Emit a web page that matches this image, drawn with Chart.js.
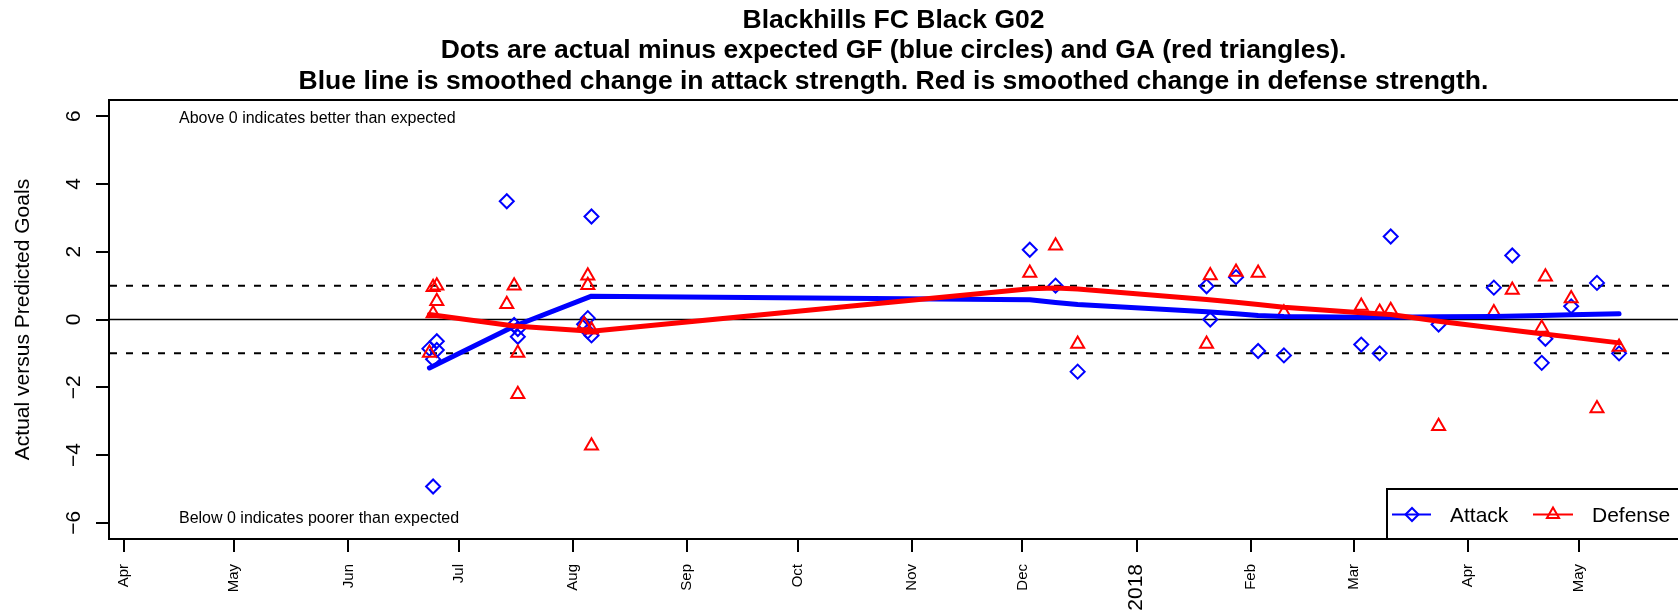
<!DOCTYPE html>
<html lang="en">
<head>
  <meta charset="UTF-8" />
  <title>Blackhills FC Black G02</title>
  <script src="https://cdn.jsdelivr.net/npm/chart.js"></script>
  <style>
    html, body { margin: 0; padding: 0; background: #fff; }
    canvas { display: block; }
  </style>
</head>
<body>
  <canvas id="chart" width="1678" height="616"></canvas>

  <script>
    // one entry per match: actual minus expected goals for / against
    const matchDates = [
      '2017-06-23', '2017-06-24', '2017-06-24', '2017-06-25', '2017-06-25',
      '2017-07-14', '2017-07-16', '2017-07-17', '2017-07-17',
      '2017-08-04', '2017-08-05', '2017-08-05', '2017-08-06', '2017-08-06',
      '2017-12-03', '2017-12-10', '2017-12-16',
      '2018-01-20', '2018-01-21', '2018-01-28', '2018-02-03', '2018-02-10',
      '2018-03-03', '2018-03-08', '2018-03-11', '2018-03-24',
      '2018-04-08', '2018-04-13', '2018-04-21', '2018-04-22', '2018-04-29', '2018-05-06', '2018-05-12'
    ];
    const attackDiff = [
      -0.86, -1.17, -4.93, -0.64, -0.90,
      3.49, -0.16, -0.28, -0.51,
      -0.14, 0.04, -0.35, 3.04, -0.47,
      2.06, 1.00, -1.54,
      0.98, 0.00, 1.25, -0.93, -1.06,
      -0.74, -1.00, 2.45, -0.15,
      0.94, 1.89, -1.28, -0.57, 0.39, 1.08, -1.00
    ];
    const defenseDiff = [
      -0.99, 0.95, 0.18, 1.00, 0.54,
      0.45, 1.00, -0.99, -2.21,
      -0.15, 1.29, 1.01, -0.30, -3.73,
      1.37, 2.18, -0.72,
      -0.72, 1.30, 1.40, 1.37, 0.20,
      0.40, 0.22, 0.27, -3.15,
      0.21, 0.87, -0.25, 1.26, 0.62, -2.63, -0.81
    ];

    // smoothed change in strength
    const smoothDates = [
      '2017-06-23', '2017-07-16', '2017-08-06', '2017-12-03', '2017-12-10', '2017-12-16',
      '2018-01-20', '2018-01-28', '2018-02-03', '2018-02-10', '2018-03-03', '2018-03-11',
      '2018-03-24', '2018-04-08', '2018-04-21', '2018-04-29', '2018-05-12'
    ];
    const attackSmooth = [-1.43, -0.20, 0.69, 0.58, 0.50, 0.44, 0.23, 0.17, 0.12, 0.09, 0.07, 0.07, 0.08, 0.09, 0.12, 0.14, 0.17];
    const defenseSmooth = [0.15, -0.19, -0.35, 0.91, 0.93, 0.90, 0.59, 0.51, 0.44, 0.36, 0.20, 0.15, -0.05, -0.25, -0.42, -0.52, -0.69];

    const monthTicks = [
      '2017-04-01', '2017-05-01', '2017-06-01', '2017-07-01', '2017-08-01', '2017-09-01', '2017-10-01',
      '2017-11-01', '2017-12-01', '2018-01-01', '2018-02-01', '2018-03-01', '2018-04-01', '2018-05-01'
    ];
    const monthLabels = ['Apr', 'May', 'Jun', 'Jul', 'Aug', 'Sep', 'Oct', 'Nov', 'Dec', '2018', 'Feb', 'Mar', 'Apr', 'May'];
    const yTicks = [-6, -4, -2, 0, 2, 4, 6];
    const xRange = ['2017-03-28', '2018-05-28'];
    const yRange = [-6.48, 6.48];
    const refLines = [1, -1];

    const titleLines = [
      'Blackhills FC Black G02',
      'Dots are actual minus expected GF (blue circles) and GA (red triangles).',
      'Blue line is smoothed change in attack strength. Red is smoothed change in defense strength.'
    ];
    const notes = [
      { text: 'Above 0 indicates better than expected', x: '2017-04-16', y: 5.92 },
      { text: 'Below 0 indicates poorer than expected', x: '2017-04-16', y: -5.89 }
    ];

    const FONT = '"Liberation Sans", Arial, Helvetica, sans-serif';
    const BLUE = '#0000ff';
    const RED = '#ff0000';

    const day = s => Date.parse(s + 'T00:00:00Z') / 86400000;
    const pts = (dates, vals) => dates.map((d, i) => ({ x: day(d), y: vals[i] }));

    function diamond(ctx, x, y, r) {
      ctx.beginPath();
      ctx.moveTo(x - r, y); ctx.lineTo(x, y - r); ctx.lineTo(x + r, y); ctx.lineTo(x, y + r);
      ctx.closePath(); ctx.stroke();
    }
    function triangle(ctx, x, y, r) {
      ctx.beginPath();
      ctx.moveTo(x, y - r);
      ctx.lineTo(x + r * Math.sqrt(3) / 2, y + r / 2);
      ctx.lineTo(x - r * Math.sqrt(3) / 2, y + r / 2);
      ctx.closePath(); ctx.stroke();
    }

    // R style extras: reference lines, box, rotated labels, titles, legend
    const rStyle = {
      id: 'rStyle',
      beforeDatasetsDraw(chart) {
        const { ctx, chartArea: a, scales: { y } } = chart;
        ctx.save();
        ctx.beginPath();
        ctx.rect(a.left, a.top, a.right - a.left, a.bottom - a.top);
        ctx.clip();
        ctx.strokeStyle = '#000';
        let py = y.getPixelForValue(0);
        ctx.lineWidth = 1.7;
        ctx.beginPath(); ctx.moveTo(a.left, py); ctx.lineTo(a.right, py); ctx.stroke();
        ctx.lineWidth = 2;
        ctx.setLineDash([7, 9]);
        refLines.forEach(v => {
          py = y.getPixelForValue(v);
          ctx.beginPath(); ctx.moveTo(a.left + 1, py); ctx.lineTo(a.right, py); ctx.stroke();
        });
        ctx.restore();
      },
      afterDraw(chart) {
        const { ctx, chartArea: a, scales: { x, y } } = chart;
        ctx.save();
        ctx.fillStyle = '#000';
        ctx.strokeStyle = '#000';

        // top of the box
        ctx.lineWidth = 2;
        ctx.beginPath(); ctx.moveTo(a.left, a.top); ctx.lineTo(a.right, a.top); ctx.stroke();

        // y tick labels (parallel to axis)
        ctx.font = '21px ' + FONT;
        ctx.textAlign = 'center';
        ctx.textBaseline = 'alphabetic';
        y.ticks.forEach(t => {
          const py = y.getPixelForValue(t.value);
          ctx.save();
          ctx.translate(80, py);
          ctx.rotate(-Math.PI / 2);
          ctx.fillText(t.value < 0 ? '\u2212' + Math.abs(t.value) : String(t.value), 0, 0);
          ctx.restore();
        });

        // y axis title
        ctx.save();
        ctx.translate(29, (a.top + a.bottom) / 2);
        ctx.rotate(-Math.PI / 2);
        ctx.fillText('Actual versus Predicted Goals', 0, 0);
        ctx.restore();

        // x tick labels, perpendicular
        x.ticks.forEach((t, i) => {
          const label = monthLabels[i];
          const px = x.getPixelForValue(t.value);
          ctx.font = (label === '2018' ? 21 : 15) + 'px ' + FONT;
          ctx.save();
          ctx.translate(px, a.bottom + 25);
          ctx.rotate(-Math.PI / 2);
          ctx.textAlign = 'right';
          ctx.textBaseline = 'middle';
          ctx.fillText(label, 0, 0);
          ctx.restore();
        });

        // titles
        ctx.font = 'bold 26.5px ' + FONT;
        ctx.textAlign = 'center';
        ctx.textBaseline = 'alphabetic';
        const cx = (a.left + a.right) / 2;
        titleLines.forEach((s, i) => ctx.fillText(s, cx, 28 + i * 30.3));

        // notes inside the plot
        ctx.font = '16px ' + FONT;
        ctx.textAlign = 'left';
        ctx.textBaseline = 'middle';
        notes.forEach(n => ctx.fillText(n.text, x.getPixelForValue(day(n.x)), y.getPixelForValue(n.y)));

        // legend box, bottom right
        const lx = 1387, ly = 489;
        ctx.fillStyle = '#fff';
        ctx.fillRect(lx, ly, a.right - lx + 5, a.bottom - ly);
        ctx.lineWidth = 2;
        ctx.strokeRect(lx, ly, a.right - lx + 5, a.bottom - ly);
        const my = 514.5;
        ctx.lineWidth = 2;
        ctx.strokeStyle = BLUE;
        ctx.beginPath(); ctx.moveTo(1392, my); ctx.lineTo(1431, my); ctx.stroke();
        diamond(ctx, 1412, my, 6.5);
        ctx.strokeStyle = RED;
        ctx.beginPath(); ctx.moveTo(1533, my); ctx.lineTo(1573, my); ctx.stroke();
        triangle(ctx, 1553, my, 7);
        ctx.fillStyle = '#000';
        ctx.font = '21px ' + FONT;
        ctx.textBaseline = 'alphabetic';
        ctx.fillText('Attack', 1450, 522);
        ctx.fillText('Defense', 1592, 522);
        ctx.restore();
      }
    };

    const axisLook = {
      ticks: { display: false },
      grid: { drawOnChartArea: false, drawTicks: true, tickLength: 13, color: '#000', lineWidth: 2 },
      border: { display: true, color: '#000', width: 2 }
    };

    new Chart(document.getElementById('chart').getContext('2d'), {
      type: 'scatter',
      data: {
        datasets: [
          {
            label: 'Defense smoothed',
            data: pts(smoothDates, defenseSmooth),
            showLine: true,
            borderColor: RED,
            borderWidth: 5,
            borderCapStyle: 'round',
            borderJoinStyle: 'round',
            pointRadius: 0,
            order: 1
          },
          {
            label: 'Attack smoothed',
            data: pts(smoothDates, attackSmooth),
            showLine: true,
            borderColor: BLUE,
            borderWidth: 5,
            borderCapStyle: 'round',
            borderJoinStyle: 'round',
            pointRadius: 0,
            order: 2
          },
          {
            label: 'Defense',
            data: pts(matchDates, defenseDiff),
            pointStyle: 'triangle',
            pointRadius: 7.5,
            pointBorderWidth: 2,
            borderColor: RED,
            pointBackgroundColor: 'rgba(0,0,0,0)',
            order: 3
          },
          {
            label: 'Attack',
            data: pts(matchDates, attackDiff),
            pointStyle: 'rectRot',
            pointRadius: 7,
            pointBorderWidth: 2,
            borderColor: BLUE,
            pointBackgroundColor: 'rgba(0,0,0,0)',
            order: 4
          }
        ]
      },
      options: {
        responsive: false,
        animation: false,
        events: [],
        layout: { autoPadding: false, padding: { top: 100, left: 0, right: 0, bottom: 0 } },
        plugins: { legend: { display: false }, title: { display: false }, tooltip: { enabled: false } },
        scales: {
          x: {
            type: 'linear',
            min: day(xRange[0]),
            max: day(xRange[1]),
            afterBuildTicks: s => { s.ticks = monthTicks.map(d => ({ value: day(d) })); },
            afterFit: s => { s.height = 77; },
            ...axisLook
          },
          y: {
            min: yRange[0],
            max: yRange[1],
            afterBuildTicks: s => { s.ticks = yTicks.map(v => ({ value: v })); },
            afterFit: s => { s.width = 109; },
            ...axisLook
          }
        }
      },
      plugins: [rStyle]
    });
  </script>
</body>
</html>
